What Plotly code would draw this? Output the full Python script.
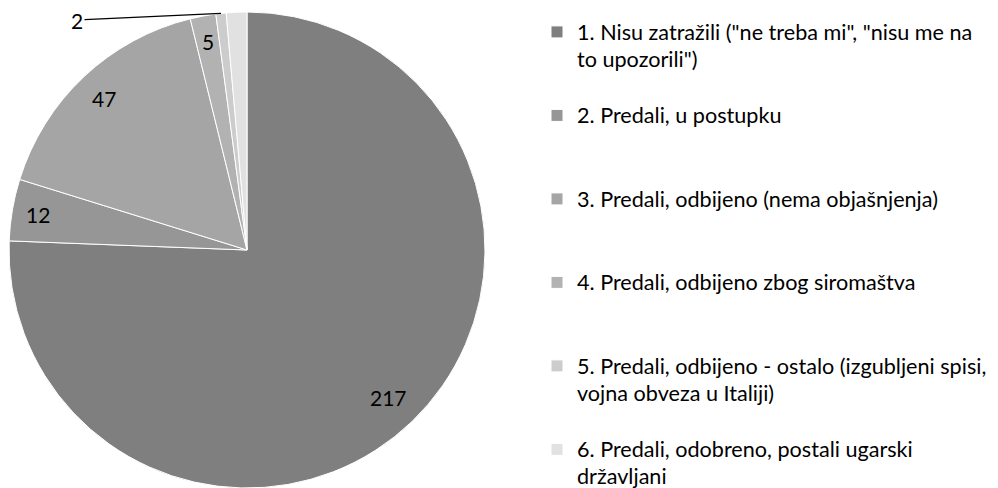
import math
import plotly.graph_objects as go

categories = [
    '1. Nisu zatražili ("ne treba mi", "nisu me na<br>to upozorili")',
    '2. Predali, u postupku',
    '3. Predali, odbijeno (nema objašnjenja)',
    '4. Predali, odbijeno zbog siromaštva',
    '5. Predali, odbijeno - ostalo (izgubljeni spisi,<br>vojna obveza u Italiji)',
    '6. Predali, odobreno, postali ugarski<br>državljani',
]
values = [217, 12, 47, 5, 2, 4]
shown_labels = ["217", "12", "47", "5", "2", ""]
colors = ["#7f7f7f", "#969696", "#a5a5a5", "#b2b2b2", "#cccccc", "#e1e1e1"]

FONT = "Lato"
LEG_FS = 20.64      # controls legend line spacing / entry spacing
TXT_FS = 21.6       # visible legend text size
LBL_FS = 21         # data label size

# page body has an 8px margin -> figure is drawn 8px right/down
OFF = 8
W, H = 998, 500   # parts beyond the 998x488 window are simply not shown


def px_x(x):   # page x -> paper fraction
    return (x - OFF) / W


def px_y(y):   # page y -> paper fraction
    return 1 - (y - OFF) / H


def leg_text(lbl, n=3):
    lines = lbl.split("<br>")
    lines = [f'<span style="font-size:{TXT_FS}px">{t}</span>' for t in lines]
    while len(lines) < n:
        lines.append("&nbsp;")
    return "<br>".join(lines)


legend_labels = [leg_text(c) if i < len(categories) - 1 else leg_text(c, 0)
                 for i, c in enumerate(categories)]

dom_x = [px_x(9), px_x(485)]
dom_y = [px_y(488), px_y(12)]

fig = go.Figure(go.Pie(
    labels=legend_labels,
    values=values,
    textinfo="none",
    sort=False,
    direction="clockwise",
    rotation=0,
    marker=dict(colors=colors, line=dict(color="white", width=1)),
    domain=dict(x=dom_x, y=dom_y),
    hoverinfo="value",
))

# data labels placed from the slice angles (derived from the values)
total = sum(values)
cx = (dom_x[0] + dom_x[1]) / 2 * W
cy = (1 - (dom_y[0] + dom_y[1]) / 2) * H
r = min((dom_x[1] - dom_x[0]) * W, (dom_y[1] - dom_y[0]) * H) / 2
cum = 0
for i, (v, lab) in enumerate(zip(values, shown_labels)):
    mid = math.radians((cum + v / 2) / total * 360)
    cum += v
    if not lab:
        continue
    sx, sy = math.sin(mid), -math.cos(mid)
    if i == 4:
        # small slice: outside label with leader line
        tipx, tipy = cx + r * sx, cy + r * sy
        fig.add_annotation(
            x=tipx / W, y=1 - tipy / H, xref="paper", yref="paper",
            ax=(77 - OFF) - tipx, ay=(20 - OFF) - tipy, axref="pixel", ayref="pixel",
            text=lab, showarrow=True, arrowhead=0, arrowwidth=1.3,
            arrowcolor="#000000", font=dict(family=FONT, size=LBL_FS, color="#000000"),
        )
        continue
    hw = 6 * len(lab)
    hh = 12
    d = r - (abs(sx) * hw + abs(sy) * hh + 12.5)
    fig.add_annotation(
        x=(cx + d * sx) / W, y=1 - (cy + d * sy) / H, xref="paper", yref="paper",
        text=lab, showarrow=False, xanchor="center", yanchor="middle",
        font=dict(family=FONT, size=LBL_FS, color="#000000"),
    )

fig.update_layout(
    width=W, height=H,
    margin=dict(l=0, r=0, t=0, b=0),
    paper_bgcolor="white",
    plot_bgcolor="white",
    font=dict(family=FONT, size=LEG_FS, color="#000000"),
    showlegend=True,
    legend=dict(
        x=px_x(577 - 40), xanchor="left", y=px_y(12), yanchor="top",
        font=dict(family=FONT, size=LEG_FS, color="#000000"),
        valign="top", traceorder="normal",
        bgcolor="rgba(0,0,0,0)",
        maxheight=700,
    ),
)

fig.write_html("out.html")
